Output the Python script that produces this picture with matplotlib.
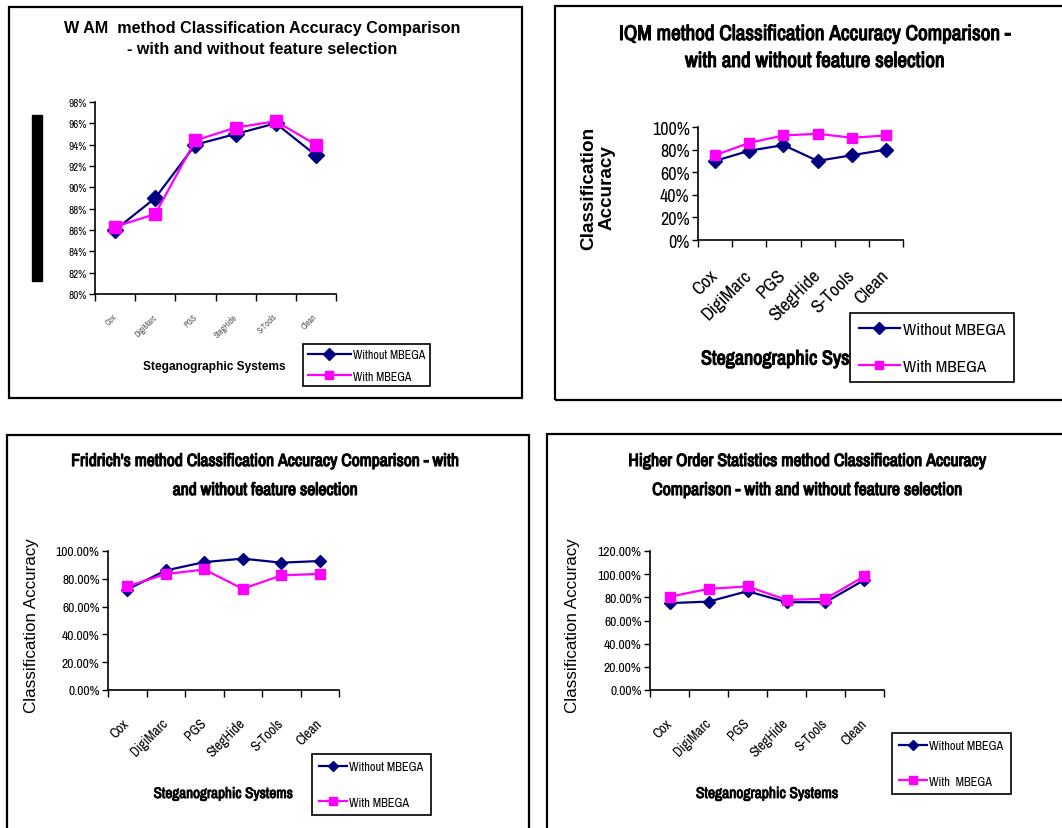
import matplotlib
matplotlib.use('Agg')
import matplotlib.pyplot as plt
import matplotlib.patheffects as pe
from matplotlib import font_manager
from matplotlib.patches import Rectangle
from matplotlib.ticker import FuncFormatter, FixedLocator
import numpy as np

systems = ['Cox', 'DigiMarc', 'PGS', 'StegHide', 'S-Tools', 'Clean']

wam_without = [86.0, 89.0, 94.0, 95.0, 96.0, 93.0]
wam_with = [86.3, 87.5, 94.4, 95.6, 96.2, 94.0]

iqm_without = [70, 79, 84, 70, 75, 80]
iqm_with = [75, 86, 92.5, 94, 90.5, 92.5]

fri_without = [72.3, 86.0, 92.0, 94.5, 91.6, 92.8]
fri_with = [74.5, 83.4, 86.7, 72.8, 82.4, 83.6]

hos_without = [75.0, 76.3, 85.3, 75.8, 75.8, 95.1]
hos_with = [80.5, 87.3, 89.4, 77.8, 78.7, 98.3]

NAVY = '#000080'
MAGENTA = '#FF00FF'
W, H = 1062, 829

fonts = font_manager.fontManager.ttflist
names = {f.name for f in fonts}
FONT = 'Liberation Sans' if 'Liberation Sans' in names else 'DejaVu Sans'
narrow = sorted(n for n in names if 'Narrow' in n)
NARROW = narrow[0] if narrow else FONT
has_bold_narrow = any(f.name == NARROW and f.weight in (700, 'bold') for f in fonts)
plt.rcParams['font.family'] = FONT

fig = plt.figure(figsize=(W / 100, H / 100), dpi=100)
renderer = fig.canvas.get_renderer()


def narrow_bold(stroke=0.7):
    # bold condensed text; fake the weight with a thin stroke when no bold face is installed
    if has_bold_narrow:
        return {'family': NARROW, 'fontweight': 'bold'}
    return {'family': NARROW,
            'path_effects': [pe.withStroke(linewidth=stroke, foreground='black')]}


def box(l, t, r, b):
    fig.patches.append(Rectangle((l / W, 1 - b / H), (r - l) / W, (b - t) / H,
                                 transform=fig.transFigure, fill=False,
                                 edgecolor='black', lw=1.6))


def ax_at(l, t, r, b):
    return fig.add_axes([l / W, 1 - b / H, (r - l) / W, (b - t) / H])


def fit_text(x, y, s, width=None, height=None, **kw):
    # place a text at pixel position and scale it to the size measured on the reference
    t = fig.text(x / W, 1 - y / H, s, ha='center', va='center', **kw)
    bb = t.get_window_extent(renderer)
    cur = bb.width if width else bb.height
    t.set_fontsize(t.get_fontsize() * (width or height) / cur)
    return t


def title2(x, y1, y2, line1, line2, width, kw):
    t = fit_text(x, y1, line1, width=width, **kw)
    fig.text(x / W, 1 - y2 / H, line2, ha='center', va='center',
             fontsize=t.get_fontsize(), **kw)


def panel(ax, without, with_, ylim, ystep, fmt, tick_fs, xtick_fs, xpad, ms):
    x = np.arange(len(systems))
    l1, = ax.plot(x, without, color=NAVY, marker='D', ms=ms, lw=1.6, clip_on=False, zorder=3)
    l2, = ax.plot(x, with_, color=MAGENTA, marker='s', ms=ms, lw=1.6, clip_on=False, zorder=4)
    ax.set_xlim(-0.5, len(systems) - 0.5)
    ax.set_ylim(*ylim)
    ax.set_yticks(np.arange(ylim[0], ylim[1] + 0.01, ystep))
    ax.yaxis.set_major_formatter(FuncFormatter(lambda v, p: fmt % v))
    ax.set_xticks(x)
    ax.set_xticklabels(systems, rotation=45, ha='right', va='center',
                       rotation_mode='anchor', fontsize=xtick_fs, family=NARROW)
    ax.xaxis.set_minor_locator(FixedLocator(np.arange(-0.5, len(systems), 1.0)))
    ax.tick_params(axis='x', which='major', length=0, pad=xpad)
    ax.tick_params(axis='x', which='minor', length=5, width=1, direction='out')
    ax.tick_params(axis='y', length=4, width=1, direction='out', labelsize=tick_fs, pad=2)
    for lab in ax.get_yticklabels():
        lab.set_family(NARROW)
    for s in ['top', 'right']:
        ax.spines[s].set_visible(False)
    for s in ['left', 'bottom']:
        ax.spines[s].set_linewidth(1.2)
    ax.patch.set_alpha(0)
    return l1, l2


def legend(ax, handles, labels, x, y, fs, hl, ls, bp=0.5):
    leg = ax.legend(handles, labels, loc='upper left', bbox_to_anchor=(x / W, 1 - y / H),
                    bbox_transform=fig.transFigure, borderaxespad=0, fancybox=False,
                    edgecolor='black', framealpha=1, prop={'size': fs, 'family': NARROW},
                    handlelength=hl, handletextpad=0.2, labelspacing=ls,
                    borderpad=bp, markerscale=0.8)
    leg.get_frame().set_linewidth(1.2)
    leg.set_zorder(10)
    return leg


# panel borders
box(9, 8, 522, 399)
box(555, 7, 1075, 401)
box(7, 436, 529, 840)
box(547, 435, 1075, 840)

# ---- WAM (top left)
ax1 = ax_at(95, 103, 336, 295)
h = panel(ax1, wam_without, wam_with, (80, 98), 2, '%d%%', 8, 6, 15, 8)
for lab in ax1.get_xticklabels():
    lab.set_color('#555555')
title2(262, 29, 49, 'W AM  method Classification Accuracy Comparison',
       '- with and without feature selection', 394, {'fontweight': 'bold'})
fig.patches.append(Rectangle((32 / W, 1 - 282 / H), 10 / W, 166 / H,
                             transform=fig.transFigure, color='black'))
fit_text(214, 367, 'Steganographic Systems', width=143, fontweight='bold')
legend(ax1, h, ['Without MBEGA', 'With MBEGA'], 303, 345, 8.6, 3.6, 0.9, 0.4)

# ---- IQM (top right)
ax2 = ax_at(698, 128, 903, 241)
h = panel(ax2, iqm_without, iqm_with, (0, 100), 20, '%d%%', 13, 13.5, 23, 7.5)
title2(815, 35, 62, 'IQM method Classification Accuracy Comparison -',
       'with and without feature selection', 393, narrow_bold(0.8))
fit_text(598, 188, 'Classification\nAccuracy', height=122, rotation=90, linespacing=1.05,
         fontweight='bold')
fit_text(793, 360, 'Steganographic Systems', width=185, zorder=-1, **narrow_bold(0.8))
legend(ax2, h, ['Without MBEGA', 'With MBEGA'], 850, 314, 12.3, 2.4, 1.3, 0.5)

# ---- Fridrich (bottom left)
ax3 = ax_at(108, 552, 339, 691)
h = panel(ax3, fri_without, fri_with, (0, 100), 20, '%.2f%%', 9.8, 10, 22, 6.5)
title2(265, 462, 491, "Fridrich's method Classification Accuracy Comparison - with",
       'and without feature selection', 390, narrow_bold(0.8))
fit_text(32, 626, 'Classification Accuracy', height=175, rotation=90)
fit_text(223, 795, 'Steganographic Systems', width=140, **narrow_bold(0.6))
legend(ax3, h, ['Without MBEGA', 'With MBEGA'], 312, 755, 8.9, 2.2, 1.95, 0.6)

# ---- Higher Order Statistics (bottom right)
ax4 = ax_at(650, 552, 884, 691)
h = panel(ax4, hos_without, hos_with, (0, 120), 20, '%.2f%%', 9.8, 10, 22, 6.5)
title2(808, 462, 491, 'Higher Order Statistics method Classification Accuracy',
       'Comparison - with and without feature selection', 360, narrow_bold(0.8))
fit_text(572, 626, 'Classification Accuracy', height=175, rotation=90)
fit_text(767, 795, 'Steganographic Systems', width=143, **narrow_bold(0.6))
legend(ax4, h, ['Without MBEGA', 'With  MBEGA'], 892, 734, 8.9, 2.2, 1.95, 0.6)

fig.savefig('out.png', dpi=100, facecolor='white')
